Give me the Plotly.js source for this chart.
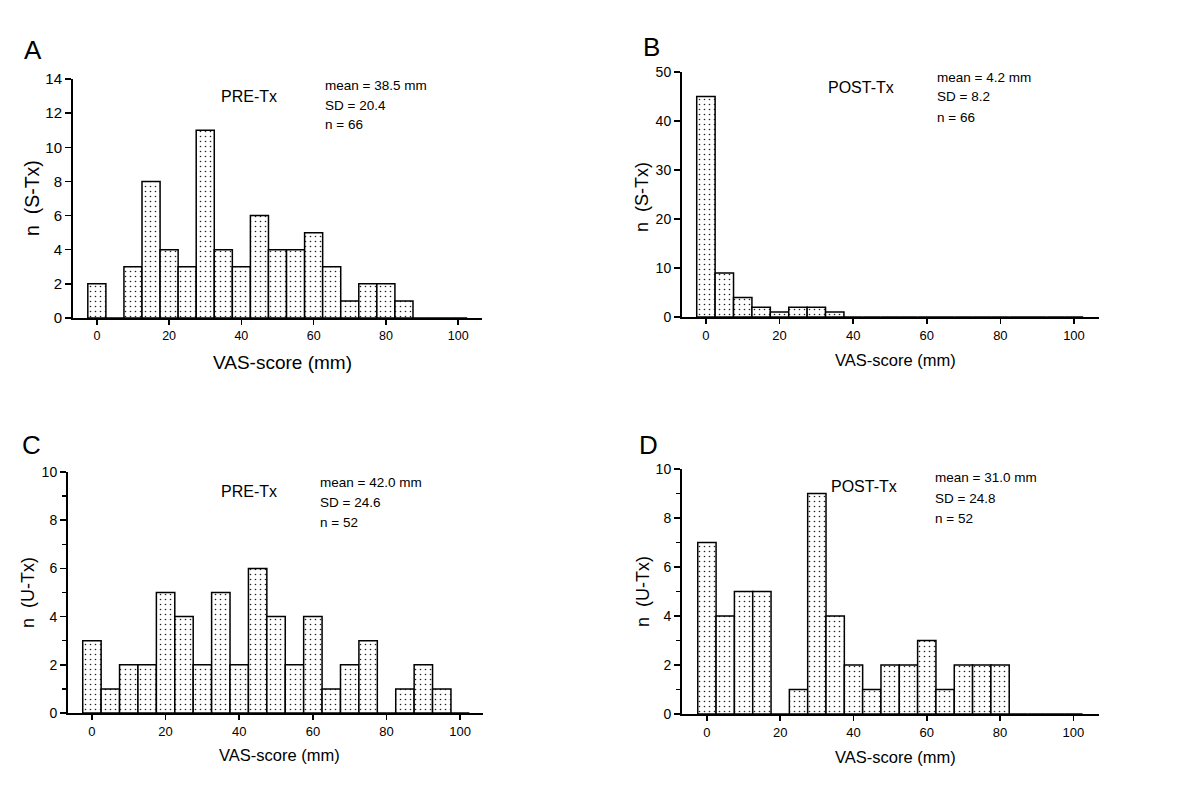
<!DOCTYPE html>
<html>
<head>
<meta charset="utf-8">
<script src="https://cdn.plot.ly/plotly-3.0.1.min.js"></script>
<style>
  body { margin: 0; background: white; }
  #plot { width: 1200px; height: 799px; }
</style>
</head>
<body>
<div id="plot"></div>
<script>
// VAS bins (mm), 5 mm wide, centred on these values
const vasBins = [0, 5, 10, 15, 20, 25, 30, 35, 40, 45, 50, 55, 60, 65, 70, 75, 80, 85, 90, 95, 100];

// counts per bin
const sTxPre  = [2, 0, 3, 8, 4, 3, 11, 4, 3, 6, 4, 4, 5, 3, 1, 2, 2, 1, 0, 0, 0];
const sTxPost = [45, 9, 4, 2, 1, 2, 2, 1, 0, 0, 0, 0, 0, 0, 0, 0, 0, 0, 0, 0, 0];
const uTxPre  = [3, 1, 2, 2, 5, 4, 2, 5, 2, 6, 4, 2, 4, 1, 2, 3, 0, 1, 2, 1, 0];
const uTxPost = [7, 4, 5, 5, 0, 1, 9, 4, 2, 1, 2, 2, 3, 1, 2, 2, 2, 0, 0, 0, 0];

const xTickVals = [0, 20, 40, 60, 80, 100];
const panelLetters = ["A", "B", "C", "D"];
const phaseLabels = ["PRE-Tx", "POST-Tx", "PRE-Tx", "POST-Tx"];
const statLines = [
  ["mean = 38.5 mm", "SD = 20.4", "n = 66"],
  ["mean = 4.2 mm", "SD = 8.2", "n = 66"],
  ["mean = 42.0 mm", "SD = 24.6", "n = 52"],
  ["mean = 31.0 mm", "SD = 24.8", "n = 52"]
];
const yTitles = ["n  (S-Tx)", "n  (S-Tx)", "n  (U-Tx)", "n  (U-Tx)"];
const xTitle = "VAS-score (mm)";

const W = 1200, H = 799;
const FONT = "Liberation Sans, Arial, sans-serif";
const px = x => x / W;
const py = y => 1 - y / H;

function barTrace(counts, ax) {
  return {
    type: 'bar',
    x: vasBins,
    y: counts,
    width: 5,
    xaxis: 'x' + ax,
    yaxis: 'y' + ax,
    marker: {
      color: 'white',
      line: { color: 'black', width: 1.5 },
      pattern: { shape: '.', size: 5, solidity: 0.08, fgcolor: '#222', bgcolor: 'white' }
    },
    hoverinfo: 'x+y'
  };
}

var data = [
  barTrace(sTxPre, ''),
  barTrace(sTxPost, '2'),
  barTrace(uTxPre, '3'),
  barTrace(uTxPost, '4')
];

// pixel boxes of each panel: [left, right, bottom, top]
const boxes = [
  [73, 482, 318, 79],
  [682, 1099, 317, 72],
  [68, 483, 713, 472],
  [682, 1099, 714, 469]
];
const xRanges = [[-6.6, 106.6], [-6.5, 106.8], [-6.5, 106.2], [-6.8, 107]];
const yRanges = [[0, 14], [0, 50], [0, 10], [0, 10]];
const yDticks = [2, 10, 2, 2];
const yTickSize = [15, 14, 14, 14];
const xTickSize = [12.5, 13, 13, 13];

var layout = {
  width: W, height: H,
  margin: { l: 0, r: 0, t: 0, b: 0 },
  paper_bgcolor: 'white',
  plot_bgcolor: 'white',
  showlegend: false,
  bargap: 0,
  font: { family: FONT, color: 'black' },
  annotations: []
};

boxes.forEach((b, i) => {
  const s = i === 0 ? '' : String(i + 1);
  layout['xaxis' + s] = {
    domain: [px(b[0]), px(b[1])],
    anchor: 'y' + s,
    range: xRanges[i],
    tickvals: xTickVals,
    ticks: 'outside', ticklen: 5, tickwidth: 1.5, tickcolor: 'black',
    showline: true, linecolor: 'black', linewidth: 2,
    showgrid: false, zeroline: false,
    tickfont: { size: xTickSize[i], family: FONT }
  };
  layout['yaxis' + s] = {
    domain: [py(b[2]), py(b[3])],
    anchor: 'x' + s,
    range: yRanges[i],
    dtick: yDticks[i],
    ticks: 'outside', ticklen: 6, tickwidth: 1.5, tickcolor: 'black',
    showline: true, linecolor: 'black', linewidth: 2,
    showgrid: false, zeroline: false,
    tickfont: { size: yTickSize[i], family: FONT }
  };
  if (i >= 2) {
    layout['yaxis' + s].minor = { dtick: 1, ticks: 'outside', ticklen: 4, tickwidth: 1.5, tickcolor: 'black', showgrid: false };
  }
});

// text positions in pixels
const letterPos = [[33, 50], [651, 47], [31, 445], [648, 445]];
const phasePos = [[249, 96], [861, 88], [249, 492], [864, 486]];
const statPos = [[323, 85], [935, 77], [318, 482], [933, 478]];
const yTitlePos = [[32, 198], [642, 197], [28, 593], [643, 592]];
const xTitlePos = [[282, 362], [895, 360], [279, 755], [895, 757]];
const xTitleSize = [19, 16.5, 16.5, 16.5];
const yTitleSize = [19.5, 18, 18, 18];

function note(text, x, y, size, opts) {
  return Object.assign({
    text: text, xref: 'paper', yref: 'paper',
    x: px(x), y: py(y), xanchor: 'center', yanchor: 'middle',
    showarrow: false, font: { size: size, family: FONT, color: 'black' }
  }, opts || {});
}

for (let i = 0; i < 4; i++) {
  layout.annotations.push(note(panelLetters[i], letterPos[i][0], letterPos[i][1], 26));
  layout.annotations.push(note(phaseLabels[i], phasePos[i][0], phasePos[i][1], 16));
  statLines[i].forEach((t, k) => {
    layout.annotations.push(note(t, statPos[i][0], statPos[i][1] + 20 * k, 13.5, { xanchor: 'left' }));
  });
  layout.annotations.push(note(yTitles[i], yTitlePos[i][0], yTitlePos[i][1], yTitleSize[i], { textangle: -90 }));
  layout.annotations.push(note(xTitle, xTitlePos[i][0], xTitlePos[i][1], xTitleSize[i]));
}

Plotly.newPlot('plot', data, layout, { staticPlot: true });
</script>
</body>
</html>
